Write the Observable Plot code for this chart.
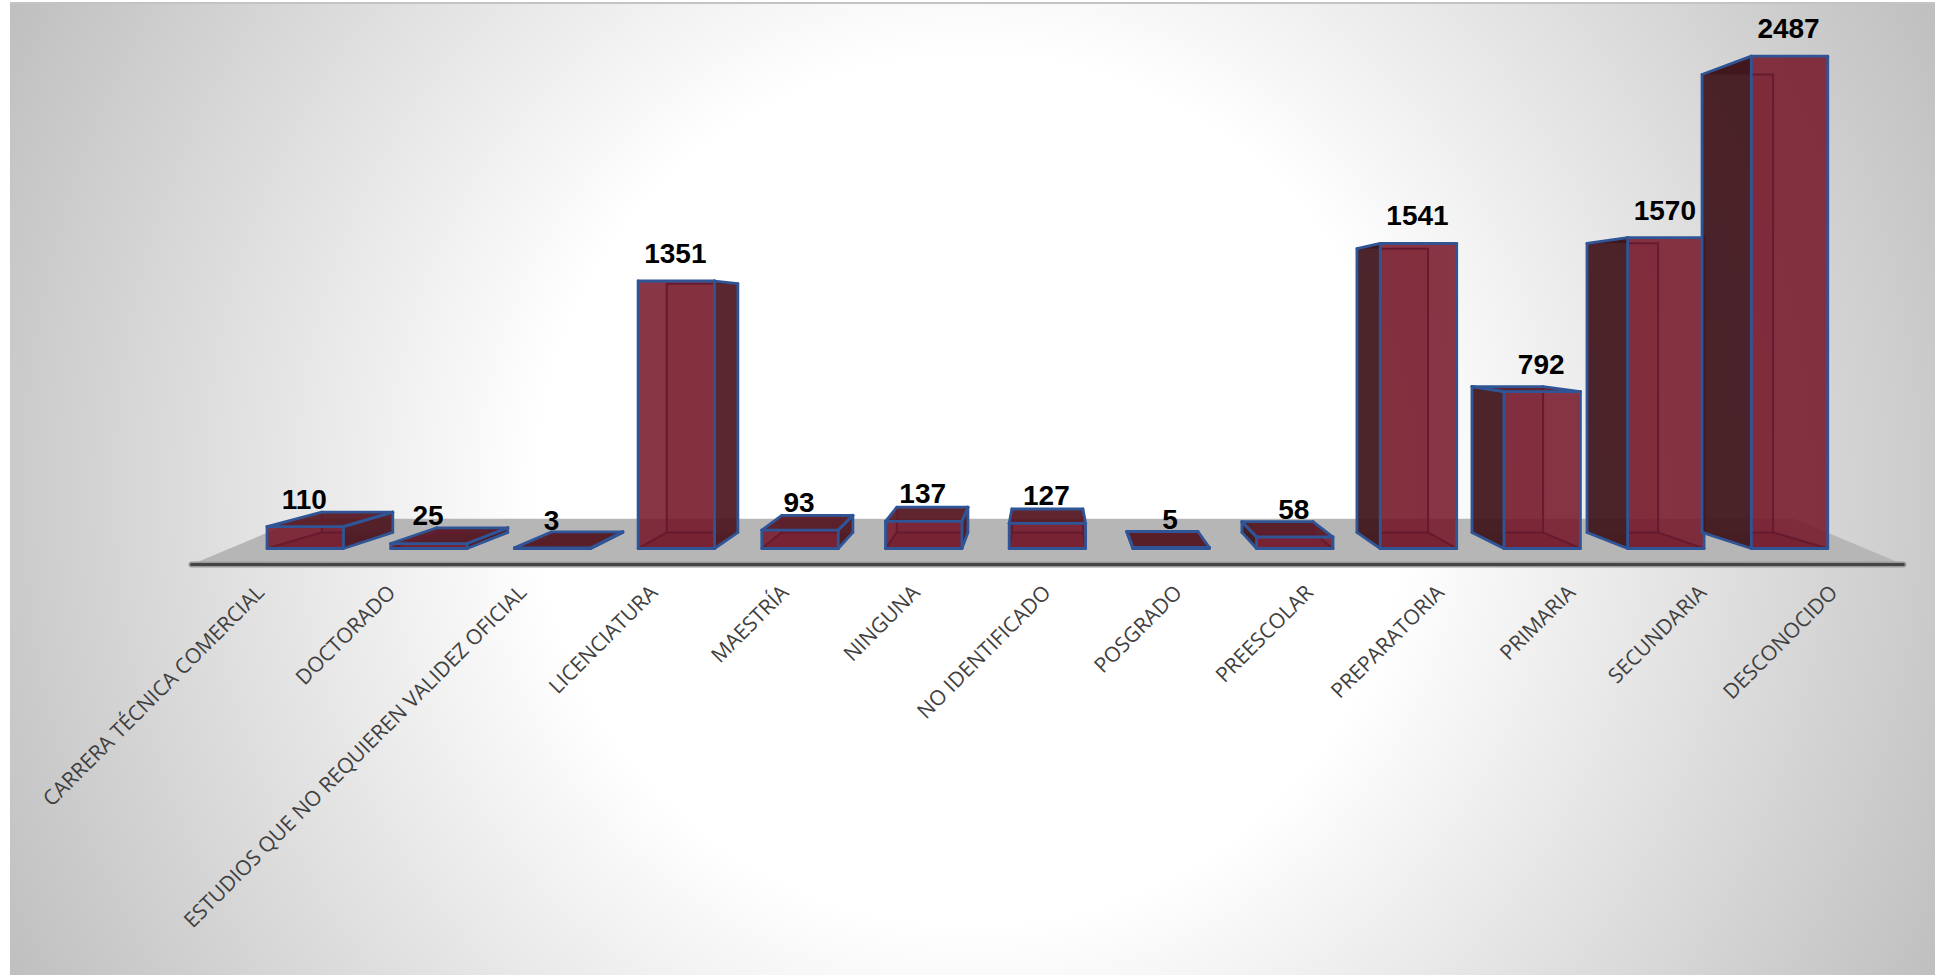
<!DOCTYPE html>
<html>
<head>
<meta charset="utf-8">
<script src="https://cdn.jsdelivr.net/npm/d3@7"></script>
<script src="https://cdn.jsdelivr.net/npm/@observablehq/plot@0.6"></script>
<style>
html,body{margin:0;padding:0;background:#fff;width:1935px;height:975px;overflow:hidden}
#bg{position:absolute;left:10px;top:2px;width:1925px;height:973px;border-top:2px solid #c4c4c4;box-sizing:border-box;
background:radial-gradient(circle 1110px at 962px 486px,#fff 0,#fff 39%,#bcbcbc 100%)}
#chart{position:absolute;left:0;top:0}
</style>
</head>
<body>
<div id="bg"></div>
<div id="chart"></div>
<script>
const categories = ["CARRERA TÉCNICA COMERCIAL","DOCTORADO","ESTUDIOS QUE NO REQUIEREN VALIDEZ OFICIAL","LICENCIATURA","MAESTRÍA","NINGUNA","NO IDENTIFICADO","POSGRADO","PREESCOLAR","PREPARATORIA","PRIMARIA","SECUNDARIA","DESCONOCIDO"];
const values = [110,25,3,1351,93,137,127,5,58,1541,792,1570,2487];

// 3D view: the camera looks at category 6, at this value height
const viewX = 6, viewY = 1160, persp = 0.0753, half = 0.309;
const project = (u, v, d) => {
  const s = 1 / (1 + persp * d);
  return {x: viewX + (u - viewX) * s, y: viewY + (v - viewY) * s};
};
const poly = (...pts) => pts.map(([u, v, d]) => project(u, v, d));

const BLUE = "#2f5597", INNER = "#651a30", FACE = "#741527";
const W = 2.8;
const path = (pts, stroke, strokeWidth) => Plot.line(pts, {x: "x", y: "y", stroke, strokeWidth});
const edge = (a, b, stroke, strokeWidth) => path(poly(a, b), stroke, strokeWidth);
const face = (pts, fill, fillOpacity) => Plot.line(poly(...pts), {x: "x", y: "y", fill, fillOpacity, stroke: "none"});
const area = (pts, fill, fillOpacity) => Plot.line(pts, {x: "x", y: "y", fill, fillOpacity, stroke: "none"});

const floorFront = -81, floorBack = 150;
const floor = [[-0.92, floorFront], [12.92, floorFront], [12.04, floorBack], [-0.04, floorBack]].map(([x, y]) => ({x, y}));
const floorLine = floor.slice(0, 2);

const barMarks = values.flatMap((v, i) => {
  const l = i - half, r = i + half;
  const FL0=[l,0,0],FR0=[r,0,0],FL1=[l,v,0],FR1=[r,v,0],BL0=[l,0,1],BR0=[r,0,1],BL1=[l,v,1],BR1=[r,v,1];
  const m = [];
  const tall = v > viewY;
  const backY0 = project(l, 0, 1).y, backY1 = project(l, v, 1).y;
  const x0 = Math.max(l, project(l, 0, 1).x), x1 = Math.min(r, project(r, 0, 1).x);
  // floor of the box and its far side, seen through the front
  m.push(face([FL0,FR0,BR0,BL0], "#4a0f1e", 0.35));
  m.push(face([BL0,BR0,BR1,BL1], "#781829", 0.2));
  // top
  if (tall) {
    const corner = i < 6 ? r : l;
    const back = project(corner, v, 1);
    m.push(area([back, {x: corner, y: v}, {x: corner, y: back.y}], i < 6 ? "#4a131d" : "#3f161c", 0.92));
  } else {
    m.push(face([FL1,FR1,BR1,BL1], "#551722", 0.92));
  }
  // outer side
  let side = null;
  if (i < 6) { side = [FR0,BR0,BR1,FR1]; m.push(face(side, "#4a131d", 0.9)); }
  if (i > 6) { side = [FL0,BL0,BL1,FL1]; m.push(face(side, "#3f161c", 0.92)); }
  // front
  m.push(face([FL0,FR0,FR1,FL1], FACE, 0.86));
  // hidden edges, seen through the front
  m.push(path([{x: x0, y: backY0}, {x: x1, y: backY0}], INNER, 2));
  if (tall) m.push(path([{x: x0, y: backY1}, {x: x1, y: backY1}], INNER, 2));
  if (i >= 6) { m.push(edge(BR0,BR1,INNER,2)); m.push(edge(FR0,BR0,INNER,2)); }
  if (i <= 6) { m.push(edge(BL0,BL1,INNER,2)); m.push(edge(FL0,BL0,INNER,2)); }
  // blue outline
  if (side) {
    m.push(edge(side[0],side[1],BLUE,W));
    m.push(edge(side[1],side[2],BLUE,W));
    m.push(edge(side[2],side[3],BLUE,W));
  }
  if (!tall) {
    m.push(edge(FL1,BL1,BLUE,W));
    m.push(edge(BL1,BR1,BLUE,W));
    m.push(edge(BR1,FR1,BLUE,W));
  }
  m.push(edge(FL0,FR0,BLUE,W));
  m.push(edge(FR0,FR1,BLUE,W));
  m.push(edge(FR1,FL1,BLUE,W));
  m.push(edge(FL1,FL0,BLUE,W));
  return m;
});

const rows = categories.map((c, i) => ({i, c, v: values[i], axis: project(i, 0, -0.75).x}));

const chart = Plot.plot({
  width: 1935,
  height: 975,
  margin: 0,
  style: {background: "transparent", overflow: "visible"},
  x: {domain: [-2.464, 13.18], axis: null},
  y: {domain: [-2157, 2768], axis: null},
  marks: [
    Plot.line(floor, {x: "x", y: "y", fill: "#b6b6b6", stroke: "none"}),
    Plot.line(floorLine, {x: "x", y: "y", stroke: "#9a9a9a", strokeWidth: 6}),
    Plot.line(floorLine, {x: "x", y: "y", stroke: "#454545", strokeWidth: 3}),
    ...barMarks,
    Plot.text(rows, {x: "i", y: "v", text: d => String(d.v), dx: -1, dy: -27, fontSize: 28, fontWeight: "bold", fontFamily: "Liberation Sans", fill: "#000"}),
    Plot.text(rows, {x: "axis", y: -190, text: "c", rotate: -45, textAnchor: "end", dx: 0, dy: 3, fontSize: 21, fontFamily: "Open Sans", fill: "#404040"})
  ]
});
document.getElementById("chart").appendChild(chart);
</script>
</body>
</html>
